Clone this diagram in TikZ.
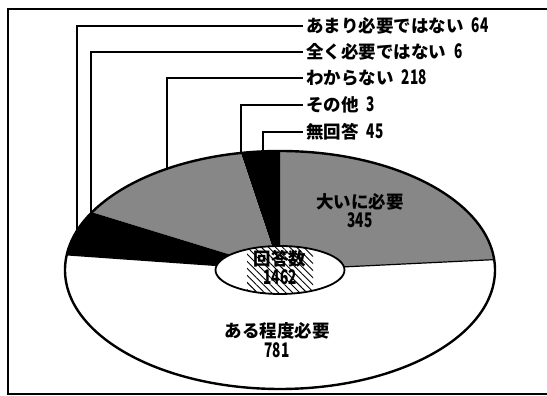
\documentclass[tikz,border=0pt]{standalone}
\usepackage{graphicx}
\usepackage{fontspec}
\setmainfont{Noto Sans CJK JP}
\usetikzlibrary{calc,patterns.meta}

\newcommand{\cnum}[1]{\scalebox{0.78}[1.15]{#1}}

\begin{document}
\begin{tikzpicture}[
                x=1pt, y=1pt,
                font=\bfseries\fontsize{17.5}{17.5}\selectfont,
                leader/.style={line width=1.4pt},
                tag/.style={anchor=west, inner sep=3pt},
                slice/.style={draw=none}
                ]

                \useasboundingbox (0,0) rectangle (547,396);
                \draw[line width=1.3pt] (549,387) -- (8,387) -- (8,2) -- (549,2);

                \coordinate (C) at (280,126);

                \fill[slice, black!47] (C) -- ++(5:215 and 119) arc[start angle=5, end angle=90, x radius=215, y radius=119] -- cycle;
                \fill[slice, black] (C) -- ++(90:215 and 119) arc[start angle=90, end angle=100.5, x radius=215, y radius=119] -- cycle;
                \fill[slice, black!47] (C) -- ++(100.5:215 and 119) arc[start angle=100.5, end angle=151, x radius=215, y radius=119] -- cycle;
                \fill[slice, black] (C) -- ++(151:215 and 119) arc[start angle=151, end angle=172.7, x radius=215, y radius=119] -- cycle;
                \fill[slice, white] (C) -- ++(172.7:215 and 119) arc[start angle=172.7, end angle=365, x radius=215, y radius=119] -- cycle;
                \draw[line width=1.2pt] (C) -- ++(5:215 and 119);
                \draw[line width=1.2pt] (C) -- ++(172.7:215 and 119);
                \draw[line width=2.4pt] (C) ellipse [x radius=215, y radius=119];

                \fill[white] (C) ellipse [x radius=64.5, y radius=24];
                \begin{scope}
                    \clip (C) ellipse [x radius=64.5, y radius=24];
                    \fill[pattern={Lines[angle=-45, distance=5pt, line width=0.9pt]}] (247,100) rectangle (313,155);
                \end{scope}
                \draw[line width=1.8pt] (C) ellipse [x radius=64.5, y radius=24];

                \node[align=center] (total) at (280,128) {回答数\\[1.5pt]\cnum{1462}};
                \node[align=center] (ookini) at (360,185) {大いに必要\\[1.5pt]\cnum{345}};
                \node[align=center] (aruteido) at (277,56) {ある程度必要\\[3pt]\cnum{781}};

                \node[tag] (amari) at (303,370) {あまり必要ではない\hspace{8pt}\cnum{64}};
                \node[tag] (mattaku) at (303,344) {全く必要ではない\hspace{8pt}\cnum{6}};
                \node[tag] (wakaranai) at (303,318) {わからない\hspace{8pt}\cnum{218}};
                \node[tag] (sonota) at (303,291) {その他\hspace{8pt}\cnum{3}};
                \node[tag] (mukaito) at (303,264) {無回答\hspace{8pt}\cnum{45}};

                \coordinate (amariPt) at ($(C)+(160.75:215 and 119)$);
                \coordinate (mattakuPt) at ($(C)+(151.55:215 and 119)$);
                \coordinate (wakaranaiPt) at ($(C)+(121.7:215 and 119)$);
                \coordinate (sonotaPt) at ($(C)+(100.45:215 and 119)$);
                \coordinate (mukaitoPt) at ($(C)+(94.54:215 and 119)$);

                \draw[leader] (amariPt) |- (amari.west);
                \draw[leader] (mattakuPt) |- (mattaku.west);
                \draw[leader] (wakaranaiPt) |- (wakaranai.west);
                \draw[leader] (sonotaPt) |- (sonota.west);
                \draw[leader] (mukaitoPt) |- (mukaito.west);
            \end{tikzpicture}
\end{document}
